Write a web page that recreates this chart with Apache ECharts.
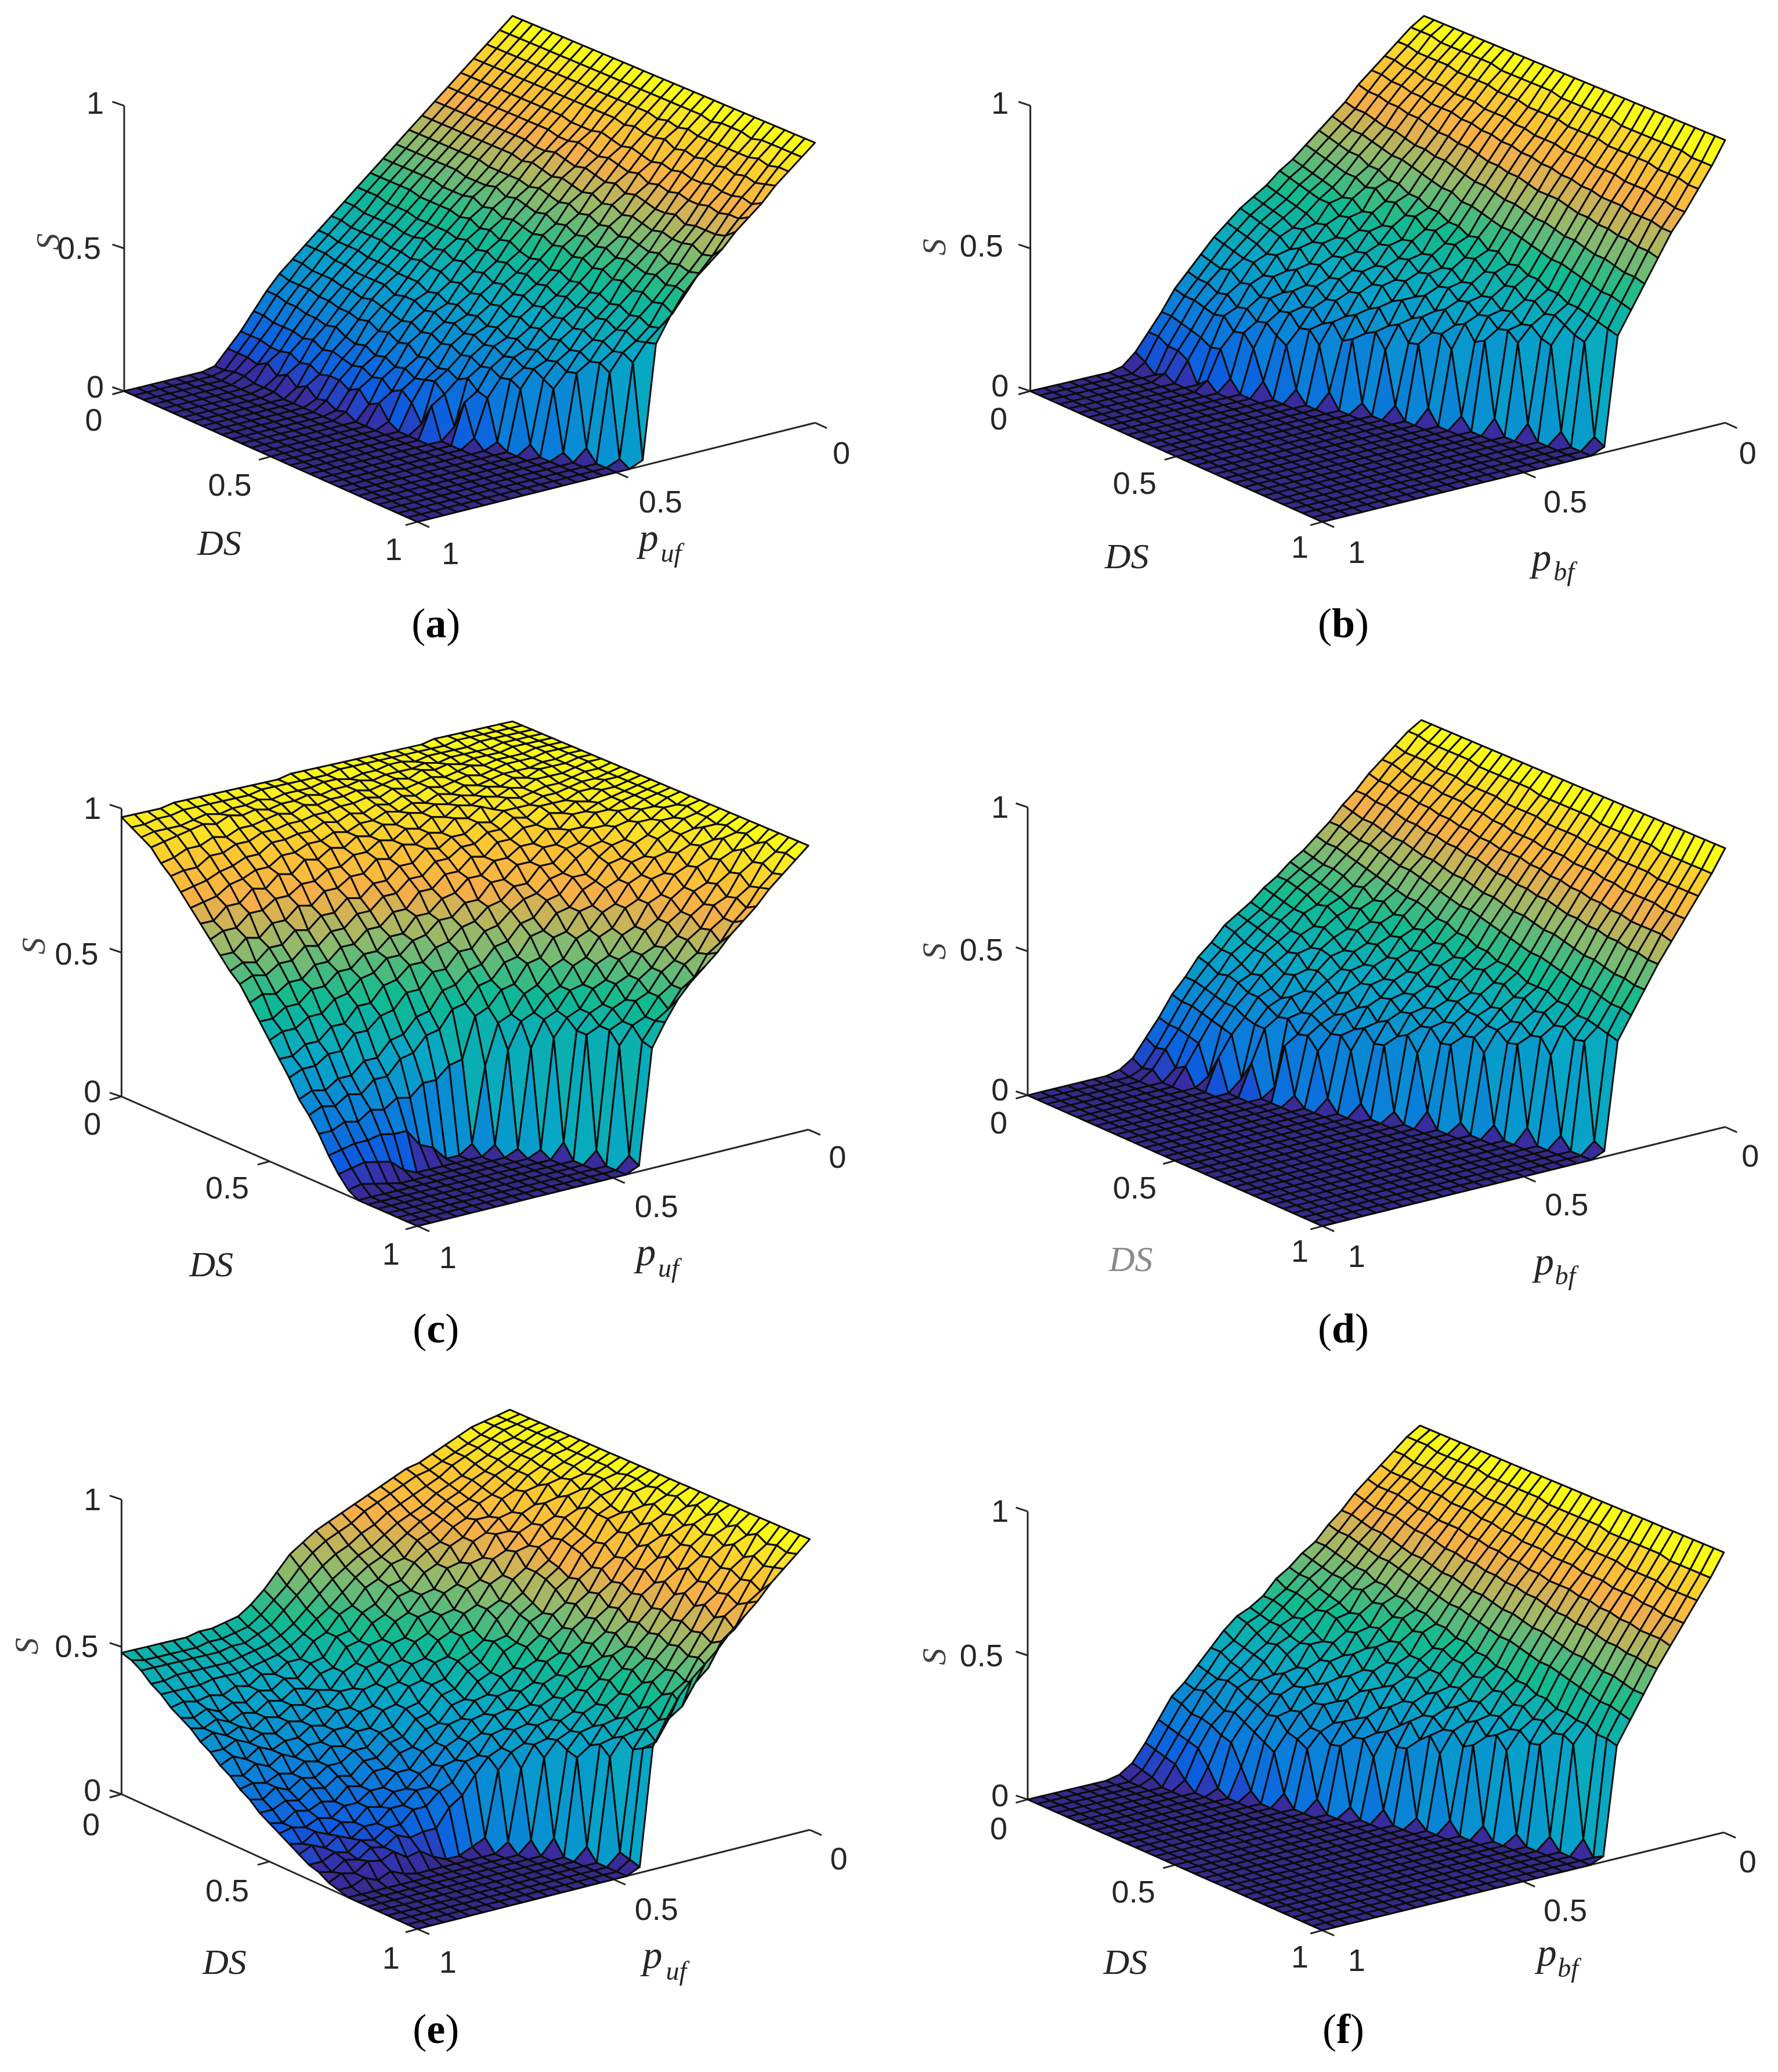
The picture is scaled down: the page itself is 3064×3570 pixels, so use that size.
<!DOCTYPE html>
<html><head><meta charset="utf-8">
<style>html,body{margin:0;padding:0;background:#fff}#c{width:3064px;height:3570px}</style>
<script src="https://cdn.jsdelivr.net/npm/echarts@6/dist/echarts.min.js"></script></head>
<body><div id="c"></div>
<script>
// S in percent. Rows: DS = i/30; columns: p = j/30; a row ends where the surface has reached the floor.
const S_a=[
[100,96,92,88,84,80,76,72,68,64,60,56,52,48,44,40,36,32,28,23,17,11,6,1],
[100,96,92,88,84,80,76,72,68,64,60,56,52,48,44,40,36,32,27,23,17,11,6,1],
[100,96,92,88,84,80,76,72,68,64,60,56,52,47,43,39,36,31,27,22,16,11,6,2],
[100,96,92,88,84,80,76,72,68,64,60,56,51,47,43,39,35,31,27,22,16,10,5,2],
[100,96,92,88,84,80,76,72,68,64,60,56,51,47,43,39,35,31,26,21,16,10,7,1],
[100,96,92,88,84,80,76,72,68,64,60,55,51,47,43,38,34,30,26,21,15,11,4,1],
[100,96,92,88,84,80,76,72,68,64,59,55,50,46,42,38,34,30,25,20,16,9,6,1],
[100,96,92,88,84,80,76,72,68,63,59,55,50,46,42,38,34,29,25,21,14,10,3],
[100,96,92,88,84,80,76,72,67,63,59,55,50,47,41,37,34,30,24,19,15,8,5],
[100,96,92,88,84,80,76,72,67,63,60,54,50,45,42,37,32,29,25,18,14,9,2],
[100,96,92,88,84,80,75,71,67,64,58,55,49,46,41,37,33,28,23,19,13,9,3],
[100,96,92,88,83,79,75,72,67,62,59,53,50,44,41,35,33,27,24,17,14,7,1],
[100,96,92,88,83,79,76,71,66,63,57,54,48,45,39,36,31,28,22,18,12,9,2],
[100,96,92,88,83,80,75,70,67,62,58,52,49,43,40,34,32,26,23,16,13,5],
[100,96,92,88,84,79,74,71,66,61,57,53,47,44,38,35,30,27,20,17,10,7],
[100,96,92,87,83,78,75,70,65,62,56,51,48,42,39,33,31,25,21,15,12,2],
[100,96,92,88,82,79,74,69,66,60,57,50,46,43,37,34,29,26,19,16,9],
[100,96,91,87,83,78,73,70,64,61,55,51,47,41,38,32,30,24,20,17,3],
[100,96,92,87,82,77,74,68,65,59,56,49,45,42,36,33,28,25,18,14,11],
[100,96,91,88,81,78,72,69,63,60,54,50,46,40,37,31,29,23,20,4],
[100,96,92,86,82,76,73,67,64,58,55,48,44,41,35,32,27,24,17,14],
[100,95,91,87,81,77,72,68,62,59,53,49,45,39,36,30,28,22,16,3],
[100,96,91,86,82,76,71,67,63,57,54,47,43,40,34,31,26,23,2],
[100,96,91,87,81,77,71,66,62,58,52,48,44,38,35,29,27,21],
[100,96,91,86,81,76,72,67,61,57,53,46,42,39,33,30,25,3],
[100,95,91,87,82,76,70,66,62,56,51,47,43,37,34,28,23],
[100,96,91,86,81,77,71,66,60,57,52,45,41,38,32,29,2],
[100,96,92,87,81,76,71,67,61,55,50,46,42,36,33,4],
[100,96,91,86,82,77,71,65,60,56,51,44,40,37,31],
[100,96,92,87,81,77,72,66,61,55,49,45,41,35,2],
[100,96,92,88,83,79,75,70,66,62,57,50,42,2]];
const S_b=[
[100,97,93,89,85,81,76,72,68,64,60,57,53,50,47,43,39,34,29,24,17,11,5,1],
[100,97,93,89,85,80,75,71,67,63,59,56,52,49,46,42,38,33,28,23,17,11,3],
[100,97,92,88,84,80,75,70,66,62,58,55,51,48,45,41,37,32,28,23,16,9],
[100,96,92,88,84,79,74,70,65,61,57,54,50,47,44,40,36,33,26,22,15,9,2],
[100,96,92,87,83,79,73,69,65,60,56,53,49,45,43,38,36,30,27,21,14,7],
[100,96,92,87,83,78,73,68,63,60,54,53,47,46,40,39,33,31,24,22,12],
[100,96,91,87,82,78,72,67,63,58,55,50,48,43,42,35,34,28,25,18,13,3],
[100,96,91,86,82,77,71,67,61,59,52,51,45,44,38,37,30,29,22,19,4],
[100,96,91,86,82,76,71,66,61,56,53,48,46,41,39,33,32,26,23,15],
[100,95,91,86,81,76,70,65,59,57,50,49,43,42,36,34,28,27,20,5],
[100,95,90,85,81,75,70,64,59,54,51,46,44,39,37,31,29,23,18],
[100,95,90,85,80,75,69,63,57,55,48,47,41,40,34,32,25,24,4],
[100,95,90,85,80,74,68,63,57,52,49,44,42,37,35,28,27,20],
[100,95,89,84,79,73,67,61,55,53,46,45,39,38,31,30,22,5],
[100,95,89,84,79,73,67,61,55,50,47,42,40,34,33,25,24],
[100,94,89,83,78,72,66,60,53,51,44,43,36,36,28,27,3],
[100,94,89,83,78,72,65,59,54,48,45,40,38,31,30,22],
[100,94,88,83,77,71,65,58,51,49,42,41,34,33,25,4],
[100,94,88,82,77,70,64,58,52,46,43,38,36,29,26],
[100,94,88,82,76,70,63,57,49,47,40,39,32,30,5],
[100,94,88,82,76,70,63,56,50,44,41,36,34,26],
[100,93,87,81,75,69,62,55,48,45,38,37,29,4],
[100,93,87,81,75,68,61,54,48,42,39,34,31],
[100,93,87,81,74,68,61,54,46,43,36,35,5],
[100,93,87,80,74,67,60,53,46,40,37,32],
[100,93,87,80,74,67,59,52,44,41,34,5],
[100,93,86,80,73,66,59,51,44,39,33],
[100,93,86,79,73,66,58,50,43,37,4],
[100,92,86,79,73,65,57,50,42,36],
[100,92,85,78,72,65,57,49,41,4],
[100,92,85,78,72,64,56,48,40,2]];
const S_c=[
[100,100,100,100,100,100,100,99,99,99,99,99,99,99,99,99,99,99,98,98,98,98,98,98,98,98,98,97,97,97,97],
[100,100,100,100,100,100,99,99,99,99,99,99,99,99,99,98,98,98,98,98,98,97,97,97,97,97,97,96,96,95,95],
[100,100,100,100,100,99,99,99,99,98,99,99,98,98,97,98,98,97,97,97,96,97,96,96,95,96,95,94,94,94,93],
[100,100,100,100,99,99,99,99,98,99,98,98,98,97,98,97,97,96,97,96,96,95,96,95,96,94,95,94,93,92,91],
[100,100,100,100,99,99,99,98,99,98,99,97,98,97,96,97,96,96,95,96,94,95,94,93,93,91,92,90,90,88,87],
[100,100,100,99,99,99,98,99,98,97,98,97,96,97,95,96,95,95,94,94,93,93,92,92,90,90,88,88,85,85,84],
[100,100,100,99,99,99,98,97,98,97,96,97,95,96,94,95,93,94,92,93,91,91,90,90,87,87,85,84,82,81,80],
[100,100,99,99,98,98,98,97,96,97,95,96,94,95,93,94,92,92,90,91,89,89,87,87,84,84,82,81,78,77,76],
[100,100,99,99,99,97,98,96,97,95,96,94,95,93,94,91,92,89,90,87,88,85,86,82,83,79,80,76,76,72,72],
[100,100,99,98,98,98,96,97,95,96,94,95,92,93,90,91,88,89,86,86,83,83,80,80,77,77,74,74,70,70,68],
[100,99,99,98,97,97,96,95,96,93,95,92,93,89,90,87,88,84,85,81,81,78,78,74,75,71,71,67,68,64,64],
[100,99,98,98,97,96,96,94,94,94,91,92,89,89,86,87,83,83,79,79,75,76,72,72,68,69,65,65,61,62,60],
[100,99,99,97,97,95,95,95,92,93,90,90,87,87,84,84,80,80,76,76,72,72,68,68,64,65,61,61,58,59,57],
[100,99,98,98,95,96,93,94,91,91,88,88,84,85,81,81,77,77,72,72,68,68,64,64,60,60,56,56,53,54,52],
[100,99,98,97,96,94,94,90,91,87,87,84,84,80,80,76,75,71,71,66,66,62,62,58,58,54,54,50,50,47,47],
[100,99,98,97,95,95,91,91,87,87,83,83,79,79,74,74,70,70,66,65,61,61,57,56,52,51,47,47,44,44,42],
[100,99,98,96,96,92,92,88,87,83,83,78,78,74,73,69,68,64,63,59,59,55,54,49,49,44,44,40,40,37,37],
[100,99,97,97,94,93,89,88,85,81,80,76,75,72,68,67,62,62,57,57,52,52,47,46,42,42,37,37,34,34,32],
[100,98,98,95,95,90,89,86,81,81,76,75,70,69,64,63,58,57,53,52,46,45,40,39,34,34,30,30,27,28,26],
[100,99,96,96,92,90,86,85,80,78,73,72,67,66,60,59,54,53,48,47,41,40,35,34,29,29,25,26,23,24,22],
[100,98,97,94,92,87,86,81,79,74,73,67,66,60,59,53,52,47,45,31,30,26,26,22,23,20,21,18,19,17,17],
[100,98,95,94,89,88,83,81,75,73,68,66,60,58,53,51,45,43,29,3,0,0,5,7,13,13,14,13,13,12,11],
[100,97,97,92,90,84,83,77,75,69,67,61,59,53,51,46,44,35,3,0,0,0,0,0,0,2,6,7,8,7,6],
[100,98,94,93,87,85,79,77,70,68,62,60,54,53,47,45,36,2,0,0,0,0,0,0,0,0,0,1,2,3,2],
[100,97,96,90,88,82,79,73,70,64,62,56,54,48,46,40,2],
[100,98,93,91,84,82,76,73,66,64,58,56,50,48,43,5],
[100,96,95,88,85,79,76,70,67,61,58,52,50,45,43],
[100,98,92,89,82,80,73,70,64,61,55,53,47,45,4],
[100,96,93,86,83,77,74,67,64,58,55,49,47,41],
[100,97,91,87,81,77,71,68,61,58,52,49,43,4],
[100,96,92,88,83,79,75,70,66,62,57,50,42,2]];
const S_d=[
[100,97,93,89,85,80,76,71,67,63,60,56,53,49,46,43,38,34,28,23,16,10,4,1],
[100,97,92,89,84,80,75,71,66,62,59,56,52,48,45,42,37,33,28,22,15,8,2],
[100,96,92,88,84,79,74,70,66,61,58,55,51,47,44,40,37,31,27,22,15,9,3],
[100,96,92,87,83,79,74,69,65,61,57,54,50,47,43,39,35,32,26,21,14,4],
[100,96,91,87,83,78,73,69,64,60,56,52,50,45,42,39,33,31,25,20,13,6],
[100,96,91,87,82,77,72,68,63,58,55,53,47,45,40,37,34,29,25,19,3],
[100,96,91,86,82,77,72,67,62,59,53,51,48,42,41,35,31,29,23,18,11],
[100,95,90,86,81,76,71,66,61,56,54,48,46,43,37,36,29,27,22,4],
[100,95,90,86,81,76,70,66,60,57,51,49,43,42,38,32,31,25,22,11],
[100,95,90,85,80,75,70,65,59,54,52,46,44,39,36,33,27,26,3],
[100,95,90,85,80,75,69,64,59,55,49,47,41,40,33,31,28,22,19],
[100,95,89,84,79,74,68,63,58,52,50,44,42,37,35,28,26,23,3],
[100,95,89,84,79,74,68,62,56,53,47,45,39,38,31,30,24,19],
[100,94,89,83,78,73,67,61,56,50,48,42,40,35,33,26,25,4],
[100,94,89,83,78,72,66,61,54,51,45,43,37,36,29,28,21],
[100,94,88,83,78,72,66,60,54,48,46,40,38,33,31,24,4],
[100,94,88,82,77,71,65,59,52,49,43,41,35,34,27,25],
[100,94,88,82,77,71,64,58,52,47,44,38,36,31,29,3],
[100,94,88,82,76,70,64,57,50,48,41,39,33,32,24],
[100,93,87,81,76,70,63,56,50,45,42,37,34,28,5],
[100,93,87,81,75,69,62,55,49,46,39,37,31,29],
[100,93,87,81,75,68,62,55,47,43,40,35,32,3],
[100,93,86,80,74,68,61,54,47,44,37,35,28],
[100,93,86,80,74,67,60,53,47,41,38,32,4],
[100,93,86,79,73,67,59,52,45,42,35,33],
[100,92,86,79,73,66,59,51,45,39,36,5],
[100,92,85,79,72,66,58,51,43,40,31],
[100,92,85,79,72,65,57,50,43,37,4],
[100,92,85,78,72,65,57,49,42,38],
[100,92,85,78,72,64,56,49,41,4],
[100,92,85,78,71,64,56,48,40,2]];
const S_e=[
[100,99,98,97,95,93,91,89,88,86,84,82,80,78,76,74,71,68,63,58,54,51,50,49,49,48,48,48,48,48,48],
[100,99,98,96,94,92,90,88,87,85,83,81,79,76,74,72,69,65,60,56,52,49,48,47,47,46,46,46,46,46,47],
[100,99,98,96,94,92,90,87,85,83,81,79,76,74,71,69,66,62,58,54,50,48,46,46,45,45,45,45,45,45,45],
[100,99,97,96,93,91,88,86,84,81,79,77,74,71,69,66,63,59,55,51,48,46,45,44,43,43,43,43,43,42,42],
[100,99,97,95,93,90,88,85,83,80,78,75,72,69,67,64,60,56,53,49,46,44,43,42,41,41,41,40,40,40,40],
[100,99,97,95,92,90,87,84,82,79,76,74,69,68,64,62,57,55,50,48,43,43,40,41,38,39,37,38,37,38,37],
[100,99,97,95,92,89,86,84,80,78,74,72,69,64,63,58,56,51,50,44,43,39,40,37,38,35,36,34,36,34,35],
[100,98,97,94,92,88,86,81,81,76,74,69,67,62,61,56,54,49,48,42,41,37,38,35,36,33,34,32,34,32,33],
[100,98,96,94,90,89,83,82,78,76,70,69,63,62,57,55,50,49,44,42,37,38,34,35,32,33,30,32,30,32,30],
[100,98,96,93,92,86,84,79,79,72,71,65,63,58,57,51,50,45,44,38,38,34,34,31,32,29,30,28,30,28,28],
[100,98,95,94,89,88,82,80,75,73,67,65,59,58,53,51,46,45,40,39,34,34,30,31,28,28,26,28,25,27,25],
[100,98,96,92,91,85,83,77,76,69,67,61,59,54,52,47,46,41,40,35,34,30,30,27,27,24,26,23,25,22,23],
[100,97,96,94,88,86,80,78,72,69,63,61,55,54,48,47,42,41,36,35,30,30,26,27,23,24,21,22,20,21,20],
[100,98,94,93,90,84,81,75,72,66,63,59,53,50,48,43,42,37,36,31,30,26,26,23,23,20,21,18,20,17,18],
[100,98,96,91,89,83,80,74,71,64,61,55,54,48,46,41,40,35,34,29,28,24,24,20,21,18,19,16,17,15,15],
[100,97,96,90,89,82,79,72,69,62,60,54,52,46,44,39,38,33,32,27,26,22,22,18,19,15,16,14,15,12,13],
[100,98,93,92,86,83,76,73,66,63,57,54,48,46,41,40,35,34,29,27,22,22,18,18,15,15,12,13,11,12,11],
[100,97,95,89,87,80,77,70,67,60,57,51,49,43,42,37,36,31,29,24,22,18,18,14,15,11,12,9,11,8,9],
[100,98,93,91,84,81,74,71,64,61,54,52,46,44,39,38,33,31,26,25,19,19,15,15,11,11,8,10,7,9,7],
[100,96,94,88,86,79,75,68,65,58,55,49,47,41,40,35,34,28,27,21,19,15,15,11,11,8,9,6,7,5,5],
[100,98,92,90,83,80,73,69,62,59,52,50,44,42,37,36,31,29,24,18,15,9,9,8,10,7,8,5,6,3,4],
[100,96,94,88,85,77,74,66,63,56,54,47,45,39,38,33,31,26,4,2,0,0,2,5,4,7,5,6,3,4,2],
[100,98,92,89,82,79,71,67,60,58,51,48,42,40,35,34,27,3,0,0,0,0,0,0,0,1,3,1,3,1,1],
[100,95,93,87,84,76,72,65,61,55,52,45,43,38,36,31,4],
[100,97,91,88,81,78,70,66,59,56,49,46,40,39,34,5],
[100,95,93,86,82,75,71,64,60,53,50,43,42,36,33],
[100,97,90,87,80,77,69,65,58,55,47,45,39,38,4],
[100,95,92,85,81,74,70,63,59,52,49,42,41,35],
[100,96,90,86,79,76,68,64,57,54,46,44,38,4],
[100,95,91,84,81,73,70,62,58,51,48,41,40,3],
[100,96,92,88,83,79,75,70,66,62,57,50,42,2]];
const S_f=[
[100,97,93,89,85,81,76,72,67,64,60,57,52,49,47,43,38,33,28,24,17,10,4,1],
[100,97,93,88,84,80,76,71,67,63,59,55,52,48,46,41,38,32,27,23,16,9,3],
[100,97,92,88,84,79,75,71,66,62,59,55,51,47,44,40,36,31,28,21,15,8,2],
[100,96,92,88,84,79,74,70,65,61,57,54,49,47,42,39,35,32,26,21,14,7],
[100,96,92,87,83,79,74,69,64,61,56,52,50,45,43,38,33,31,24,20,13,3],
[100,96,91,87,82,78,73,68,64,59,55,53,47,44,41,35,34,29,25,18,8],
[100,96,91,87,82,77,72,68,62,60,53,52,45,45,38,37,31,28,23,17,2],
[100,96,91,86,81,77,71,67,62,57,54,49,46,41,39,34,32,26,21,10],
[100,95,91,86,81,76,71,66,60,58,51,50,43,42,35,35,28,27,19,3],
[100,95,90,86,81,75,70,65,60,55,52,46,45,38,37,31,29,23,17],
[100,95,90,85,80,75,69,64,58,56,49,48,41,40,32,32,25,22,4],
[100,95,90,85,80,74,69,63,58,53,50,44,42,36,34,27,25,20],
[100,95,89,84,79,74,68,62,56,54,47,45,38,38,29,29,22,4],
[100,95,89,84,79,73,67,62,56,50,47,42,40,33,31,25,23],
[100,94,89,83,78,73,67,61,54,51,45,43,36,35,27,26,3],
[100,94,89,83,78,72,66,60,54,49,45,39,37,30,29,21],
[100,94,88,83,77,72,65,59,52,49,42,41,34,33,25,4],
[100,94,88,82,77,71,65,58,52,46,43,37,35,28,26],
[100,94,88,82,76,71,64,58,50,47,40,39,32,31,3],
[100,94,87,82,76,70,63,57,50,44,41,35,33,26],
[100,93,87,81,76,69,63,56,48,45,38,37,29,4],
[100,93,87,81,75,69,62,55,48,42,39,33,31],
[100,93,87,81,75,68,61,55,46,43,36,35,4],
[100,93,86,80,74,68,60,54,46,40,37,31],
[100,93,86,80,74,67,60,53,44,41,34,3],
[100,93,86,80,73,66,59,52,44,38,35],
[100,92,86,79,73,66,58,51,43,39,4],
[100,92,85,79,72,65,58,50,43,37],
[100,92,85,78,72,65,57,50,41,5],
[100,92,85,78,72,64,56,49,41],
[100,92,85,78,71,64,56,48,40,2]];

const TICK_VALUES=[0,0.5,1];
const TICK_LABELS=['0','0.5','1'];
const GRID_STEPS=30;

// layout, in the units of the shrunk reference
const K=3064/1346;
const PANELS=[
 {z:S_a,A:[94,296],B:[316,395],C:[617,320],T:[388,12],hN:216,hF:212,
  zl:[[72,293],[60,188],[72,78]],dl:[[71,318],[174,367],[298,416]],pl:[[637,343],[500,380],[341,419]],
  ds:[166,413],sl:[38,183],p:[491,409],sub:[508,420],subT:'uf',cap:[330,474],capT:'a'},
 {z:S_b,A:[780,296],B:[1001,395],C:[1306,320],T:[1078,12],hN:216,hF:214,
  zl:[[757,292],[743,186],[757,78]],dl:[[756,317],[859,366],[984,414]],pl:[[1323,343],[1185,380],[1027,418]],
  ds:[853,423],sl:[709,187],p:[1167,424],sub:[1184,434],subT:'bf',cap:[1017,474],capT:'b'},
 {z:S_c,A:[92,830],B:[316,928],C:[612,855],T:[388,546],hN:218,hF:215,
  zl:[[70,826],[58,722],[70,612]],dl:[[70,851],[172,899],[296,949]],pl:[[634,876],[497,913],[339,952]],
  ds:[160,959],sl:[27,716],p:[489,950],sub:[506,961],subT:'uf',cap:[330,1008],capT:'c'},
 {z:S_d,A:[778,829],B:[1001,928],C:[1306,853],T:[1076,545],hN:218,hF:211,
  zl:[[757,825],[743,719],[757,611]],dl:[[756,850],[859,899],[984,947]],pl:[[1325,875],[1186,912],[1027,951]],
  ds:[856,955],dsColor:'#8a8a8a',sl:[709,720],p:[1169,957],sub:[1185,967],subT:'bf',cap:[1017,1008],capT:'d'},
 {z:S_e,A:[92,1358],B:[316,1460],C:[613,1385],T:[386,1067],hN:223,hF:220,
  zl:[[70,1355],[58,1246],[70,1135]],dl:[[69,1381],[172,1431],[296,1482]],pl:[[635,1407],[497,1445],[339,1485]],
  ds:[170,1487],sl:[22,1246],p:[494,1482],sub:[512,1493],subT:'uf',cap:[330,1538],capT:'e'},
 {z:S_f,A:[778,1362],B:[1001,1461],C:[1305,1387],T:[1075,1079],hN:218,hF:212,
  zl:[[757,1359],[743,1253],[757,1144]],dl:[[756,1384],[858,1432],[984,1481]],pl:[[1323,1409],[1185,1446],[1027,1484]],
  ds:[852,1487],sl:[709,1254],p:[1171,1480],sub:[1187,1491],subT:'bf',cap:[1017,1538],capT:'f'}
];

function project(P,ds,pv,s){
  const D=[P.T[0],P.T[1]+P.hF], q=1-pv;
  const nearX=P.A[0]+(P.B[0]-P.A[0])*ds, nearY=P.A[1]+(P.B[1]-P.A[1])*ds;
  const farX=D[0]+(P.C[0]-D[0])*ds, farY=D[1]+(P.C[1]-D[1])*ds;
  const h=P.hN+(P.hF-P.hN)*q;
  return [(nearX+(farX-nearX)*q)*K,(nearY+(farY-nearY)*q-h*s)*K];
}

const STOPS=[[0,53,42,135],[0.06,58,44,165],[0.12,13,91,224],[0.25,10,130,216],[0.4,6,167,198],
 [0.55,18,186,144],[0.68,140,186,108],[0.8,245,174,72],[0.9,252,197,50],[1,249,251,21]];
function parula(v){
  for(let k=1;k<STOPS.length;k++){ if(v<=STOPS[k][0]){
    const a=STOPS[k-1],b=STOPS[k],t=(v-a[0])/(b[0]-a[0]);
    return 'rgb('+[1,2,3].map(n=>Math.round(a[n]+(b[n]-a[n])*t)).join(',')+')';
  }}
  return 'rgb(249,251,21)';
}
const cell=(T,i,j)=>{const r=T[i];return (r&&j<r.length?r[j]:0)/100;};

function surfaceSeries(P){
  const data=[];
  for(let i=0;i<GRID_STEPS;i++)for(let j=0;j<GRID_STEPS;j++)
    data.push([i,j,cell(P.z,i,j),cell(P.z,i,j+1),cell(P.z,i+1,j),cell(P.z,i+1,j+1)]);
  return {type:'custom',coordinateSystem:'cartesian2d',silent:true,clip:false,animation:false,
    progressive:0,data,encode:{x:0,y:1},
    renderItem(params,api){
      const i=api.value(0),j=api.value(1),n=GRID_STEPS;
      const v=[[i,j,api.value(2)],[i,j+1,api.value(3)],[i+1,j+1,api.value(5)],[i+1,j,api.value(4)]];
      const pts=v.map(c=>api.coord(project(P,c[0]/n,c[1]/n,c[2])));
      return {type:'polygon',shape:{points:pts},
        style:{fill:parula(api.value(2)),stroke:'#0b0b0b',lineWidth:3,lineJoin:'round'}};
    }};
}
function axisSeries(P){
  const segs=[];
  const add=(a,b)=>segs.push([...a,...b]);
  add([0,1,0],[1,1,0]); add([1,1,0],[1,0,0]); add([0,1,0],[0,1,1]);
  return {type:'custom',coordinateSystem:'cartesian2d',silent:true,clip:false,animation:false,
    data:[0,1,2].concat(TICK_VALUES.map((_,k)=>3+k),TICK_VALUES.map((_,k)=>6+k),TICK_VALUES.map((_,k)=>9+k)),
    encode:{x:0,y:0},
    renderItem(params,api){
      const idx=params.dataIndex;let a,b;
      const pr=(d,p,s)=>project(P,d,p,s);
      if(idx<3){const s=segs[idx];a=pr(s[0],s[1],s[2]);b=pr(s[3],s[4],s[5]);}
      else if(idx<6){a=pr(TICK_VALUES[idx-3],1,0);b=[a[0]-9*K,a[1]+2.5*K];}
      else if(idx<9){a=pr(1,1-TICK_VALUES[idx-6],0);b=[a[0]+9*K,a[1]+4*K];}
      else {a=pr(0,1,TICK_VALUES[idx-9]);b=[a[0]-9*K,a[1]-3*K];}
      const A=api.coord(a),B=api.coord(b);
      return {type:'line',shape:{x1:A[0],y1:A[1],x2:B[0],y2:B[1]},style:{stroke:'#262626',lineWidth:3}};
    }};
}
function txt(x,y,text,font,extra){
  return {type:'text',x:x*K,y:y*K,z:20,silent:true,
    style:Object.assign({text,fill:'#262626',font,align:'center',verticalAlign:'middle'},extra||{})};
}
const graphics=[];
const SANS='54px "Liberation Sans"', SERIF='italic 62px "Liberation Serif"';
PANELS.forEach(P=>{
  [P.zl,P.dl,P.pl].forEach(L=>L.forEach((c,k)=>graphics.push(txt(c[0],c[1]+1.5,TICK_LABELS[k],SANS))));
  graphics.push(txt(P.ds[0],P.ds[1],'DS',SERIF,{fill:P.dsColor||'#262626'}));
  graphics.push(txt(P.p[0],P.p[1],'p','italic 68px "Liberation Serif"'));
  graphics.push(txt(P.sub[0],P.sub[1],P.subT,'italic 46px "Liberation Serif"'));
  const s=txt(P.sl[0],P.sl[1],'S','italic 58px "Liberation Serif"',{fill:'#404040'});
  s.rotation=Math.PI/2;
  graphics.push(s);
  graphics.push({type:'text',x:P.cap[0]*K,y:P.cap[1]*K,z:20,silent:true,style:{
    text:'{n|(}{b|'+P.capT+'}{n|)}',align:'center',verticalAlign:'middle',fill:'#000',
    rich:{n:{font:'72px "Liberation Serif"',fill:'#000'},b:{font:'bold 72px "Liberation Serif"',fill:'#000'}}}});
});

const chart=echarts.init(document.getElementById('c'),null,{renderer:'canvas'});
chart.setOption({
  animation:false,backgroundColor:'#fff',
  grid:{left:0,right:0,top:0,bottom:0},
  xAxis:{type:'value',min:0,max:3064,show:false},
  yAxis:{type:'value',min:0,max:3570,inverse:true,show:false},
  series:PANELS.flatMap(P=>[axisSeries(P),surfaceSeries(P)]),
  graphic:{elements:graphics}
});
</script></body></html>
